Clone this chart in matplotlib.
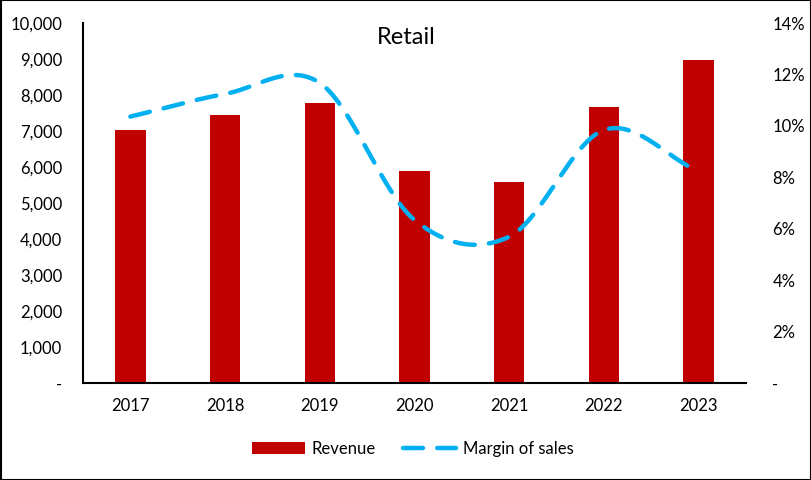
import numpy as np
import matplotlib
matplotlib.use("Agg")
import matplotlib.pyplot as plt
from matplotlib.ticker import FuncFormatter
from matplotlib.patches import Rectangle

plt.rcParams['font.family'] = ['Lato', 'DejaVu Sans']

years = ["2017", "2018", "2019", "2020", "2021", "2022", "2023"]
revenue = [7030, 7450, 7780, 5890, 5590, 7670, 8970]
margin = [0.1036, 0.1124, 0.1167, 0.0634, 0.0569, 0.0984, 0.0822]


def smooth(xs, ys, n=30):
    # catmull-rom style curve through the points, like excel's smoothed line
    xs = np.asarray(xs, float)
    ys = np.asarray(ys, float)
    px = np.concatenate([[2 * xs[0] - xs[1]], xs, [2 * xs[-1] - xs[-2]]])
    py = np.concatenate([[2 * ys[0] - ys[1]], ys, [2 * ys[-1] - ys[-2]]])
    outx, outy = [], []
    for i in range(1, len(px) - 2):
        t = np.linspace(0, 1, n, endpoint=False)
        for arr, out in ((px, outx), (py, outy)):
            p0, p1, p2, p3 = arr[i - 1], arr[i], arr[i + 1], arr[i + 2]
            m1 = (p2 - p0) / 2
            m2 = (p3 - p1) / 2
            h00 = 2 * t**3 - 3 * t**2 + 1
            h10 = t**3 - 2 * t**2 + t
            h01 = -2 * t**3 + 3 * t**2
            h11 = t**3 - t**2
            out.extend(h00 * p1 + h10 * m1 + h01 * p2 + h11 * m2)
    outx.append(xs[-1])
    outy.append(ys[-1])
    return np.array(outx), np.array(outy)


fig = plt.figure(figsize=(8.12, 4.8), dpi=100)
ax = fig.add_axes([83 / 812, 1 - 383 / 480, (746 - 83) / 812, 360 / 480])
x = np.arange(len(years))

bars = ax.bar(x, revenue, width=0.32, color="#C00000", label="Revenue", zorder=2)
ax.set_xlim(-0.5, len(years) - 0.5)
ax.set_ylim(0, 10000)
ax.set_yticks(np.arange(0, 10001, 1000))
ax.yaxis.set_major_formatter(FuncFormatter(lambda v, p: "-" if v == 0 else f"{v:,.0f}"))
ax.set_xticks(x)
ax.set_xticklabels(years)
ax.tick_params(axis="both", length=0, labelsize=12, colors="black")
ax.tick_params(axis="y", pad=15)
ax.tick_params(axis="x", pad=11)
for s in ["top", "right"]:
    ax.spines[s].set_visible(False)
ax.spines["left"].set_linewidth(1.5)
ax.spines["bottom"].set_linewidth(1.5)

ax2 = ax.twinx()
sx, sy = smooth(x, margin)
line, = ax2.plot(sx, sy, color="#00B0F0", linewidth=3.2, dashes=(4.5, 3.2),
                 dash_capstyle="round", label="Margin of sales", zorder=3)
ax2.set_ylim(0, 0.14)
ax2.set_yticks(np.arange(0, 0.141, 0.02))
ax2.yaxis.set_major_formatter(FuncFormatter(lambda v, p: "-" if abs(v) < 1e-9 else f"{v * 100:.0f}%"))
ax2.tick_params(axis="y", length=0, labelsize=12, pad=19)
for s in ["top", "right", "left", "bottom"]:
    ax2.spines[s].set_visible(False)

fig.text(0.5, 1 - 37 / 480, "Retail", ha="center", va="center", fontsize=17)

fig.legend([bars, line], ["Revenue", "Margin of sales"], loc="center",
           bbox_to_anchor=(0.508, 1 - 449 / 480), ncol=2, frameon=False,
           fontsize=12, handlelength=3.2, columnspacing=1.6, handletextpad=0.4)

fig.patches.append(Rectangle((0.001, 0.001), 0.998, 0.998, transform=fig.transFigure,
                             fill=False, edgecolor="black", linewidth=1.5))

fig.savefig("out.png", dpi=100)
